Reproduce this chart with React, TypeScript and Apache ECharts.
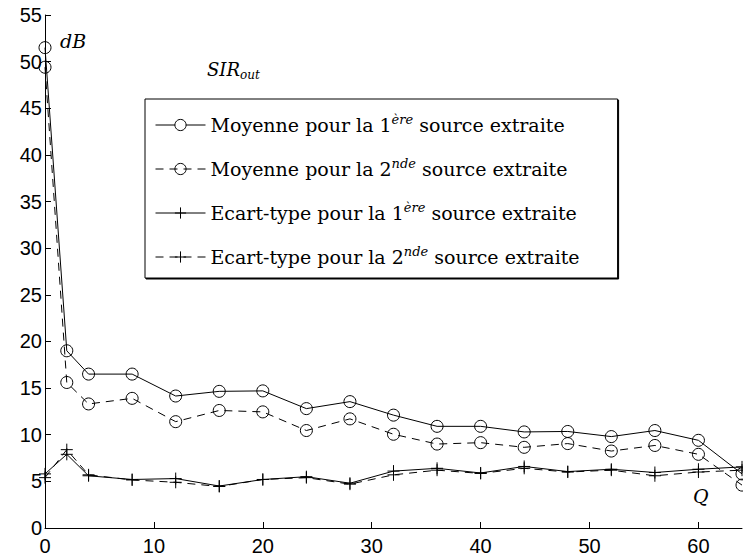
import React, { useEffect, useRef } from "react";
import * as echarts from "echarts";

const xValues = [0, 2, 4, 8, 12, 16, 20, 24, 28, 32, 36, 40, 44, 48, 52, 56, 60, 64];
const mean1 = [51.5, 19.0, 16.5, 16.5, 14.15, 14.65, 14.7, 12.8, 13.55, 12.1, 10.9, 10.9, 10.3, 10.35, 9.8, 10.45, 9.4, 5.8];
const mean2 = [49.4, 15.6, 13.3, 13.9, 11.4, 12.6, 12.45, 10.45, 11.7, 10.05, 9.0, 9.15, 8.65, 9.05, 8.25, 8.85, 7.9, 4.6];
const std1 = [5.8, 7.9, 5.6, 5.2, 5.3, 4.5, 5.2, 5.5, 4.8, 6.1, 6.4, 5.9, 6.6, 6.05, 6.3, 5.95, 6.3, 6.55];
const std2 = [5.4, 8.4, 5.7, 5.15, 4.9, 4.45, 5.2, 5.4, 4.7, 5.7, 6.2, 5.85, 6.4, 6.0, 6.2, 5.6, 6.0, 6.2];
const xTicks = [0, 10, 20, 30, 40, 50, 60];

const legendParts = [
  { pre: "Moyenne pour la 1", sup: "ère", post: " source extraite" },
  { pre: "Moyenne pour la 2", sup: "nde", post: " source extraite" },
  { pre: "Ecart-type pour la 1", sup: "ère", post: " source extraite" },
  { pre: "Ecart-type pour la 2", sup: "nde", post: " source extraite" },
];
const seriesNames = legendParts.map((p) => p.pre + p.sup + p.post);

const SERIF = "DejaVu Serif";
const SANS = "Liberation Sans";
const PLUS = "path://M6,0L6,12M0,6L12,6";

export default function App() {
  const ref = useRef<HTMLDivElement>(null);
  useEffect(() => {
    if (!ref.current) return;
    const chart = echarts.init(ref.current, null, { renderer: "svg" });
    const mk = (vals: number[]) => xValues.map((x, i) => [x, vals[i]]);
    const dash = [8, 6];
    const circleStyle = { color: "transparent", borderColor: "#000", borderWidth: 1 };
    const plusStyle = { color: "transparent", borderColor: "#000", borderWidth: 1 };
    chart.setOption({
      animation: false,
      backgroundColor: "#fff",
      grid: { left: 45, right: 1, top: 15, bottom: 30, containLabel: false },
      xAxis: {
        type: "value",
        min: 0,
        max: 64,
        interval: 10,
        axisLine: { show: true, lineStyle: { color: "#000", width: 1 } },
        axisTick: { show: true, inside: true, length: 6, customValues: xTicks, lineStyle: { color: "#000" } },
        axisLabel: { customValues: xTicks, color: "#000", fontFamily: SANS, fontSize: 20, margin: 8 },
        splitLine: { show: false },
      },
      yAxis: {
        type: "value",
        min: 0,
        max: 55,
        interval: 5,
        axisLine: { show: true, lineStyle: { color: "#000", width: 1 } },
        axisTick: { show: true, inside: true, length: 6, lineStyle: { color: "#000" } },
        axisLabel: { color: "#000", fontFamily: SANS, fontSize: 20, margin: 3 },
        splitLine: { show: false },
      },
      legend: {
        show: true,
        orient: "vertical",
        left: 145,
        top: 99,
        padding: [14, 38, 9, 10],
        itemGap: 20,
        itemWidth: 50,
        itemHeight: 14,
        backgroundColor: "#fff",
        borderColor: "#000",
        borderWidth: 1,
        shadowColor: "#000",
        shadowBlur: 0,
        shadowOffsetX: 1,
        shadowOffsetY: 1,
        lineStyle: { width: 1 },
        itemStyle: { borderWidth: 1 },
        data: [
          { name: seriesNames[0], itemStyle: { color: "#fff" } },
          { name: seriesNames[1] },
          { name: seriesNames[2] },
          { name: seriesNames[3] },
        ],
        formatter: (name: string) => {
          const i = seriesNames.indexOf(name);
          const p = legendParts[i];
          return `{t|${p.pre}}{sup|${p.sup}}{t|${p.post}}`;
        },
        textStyle: {
          color: "#000",
          fontFamily: SERIF,
          fontSize: 19,
          lineHeight: 24,
          rich: {
            t: {
              fontFamily: SERIF,
              fontSize: 19,
              lineHeight: 24,
              color: "#000",
            },
            sup: {
              fontFamily: SERIF,
              fontStyle: "italic",
              fontSize: 13,
              lineHeight: 14,
              verticalAlign: "top",
              color: "#000",
            },
          },
        },
      },
      series: [
        {
          name: seriesNames[0],
          type: "line",
          data: mk(mean1),
          symbol: "circle",
          symbolSize: 12,
          showAllSymbol: true,
          lineStyle: { color: "#000", width: 1, type: "solid" },
          itemStyle: circleStyle,
        },
        {
          name: seriesNames[1],
          type: "line",
          data: mk(mean2),
          symbol: "circle",
          symbolSize: 12,
          showAllSymbol: true,
          lineStyle: { color: "#000", width: 1, type: dash },
          itemStyle: circleStyle,
        },
        {
          name: seriesNames[2],
          type: "line",
          data: mk(std1),
          symbol: PLUS,
          symbolSize: 12,
          showAllSymbol: true,
          lineStyle: { color: "#000", width: 1, type: "solid" },
          itemStyle: plusStyle,
        },
        {
          name: seriesNames[3],
          type: "line",
          data: mk(std2),
          symbol: PLUS,
          symbolSize: 12,
          showAllSymbol: true,
          lineStyle: { color: "#000", width: 1, type: dash },
          itemStyle: plusStyle,
        },
      ],
      graphic: [
        {
          type: "text",
          left: 60,
          top: 31,
          style: { text: "dB", fontFamily: SERIF, fontStyle: "italic", fontSize: 19, fill: "#000" },
        },
        {
          type: "text",
          left: 207,
          top: 60,
          style: {
            text: "{a|SIR}{b|out}",
            fill: "#000",
            rich: {
              a: { fontFamily: SERIF, fontStyle: "italic", fontSize: 18, lineHeight: 24 },
              b: { fontFamily: SERIF, fontStyle: "italic", fontSize: 12, lineHeight: 13, verticalAlign: "bottom" },
            },
          },
        },
        {
          type: "text",
          left: 693,
          top: 486,
          style: { text: "Q", fontFamily: SERIF, fontStyle: "italic", fontSize: 19, fill: "#000" },
        },
      ],
    });
    return () => chart.dispose();
  }, []);
  return <div ref={ref} style={{ width: 743, height: 558, position: "absolute", left: 0, top: 0 }} />;
}
